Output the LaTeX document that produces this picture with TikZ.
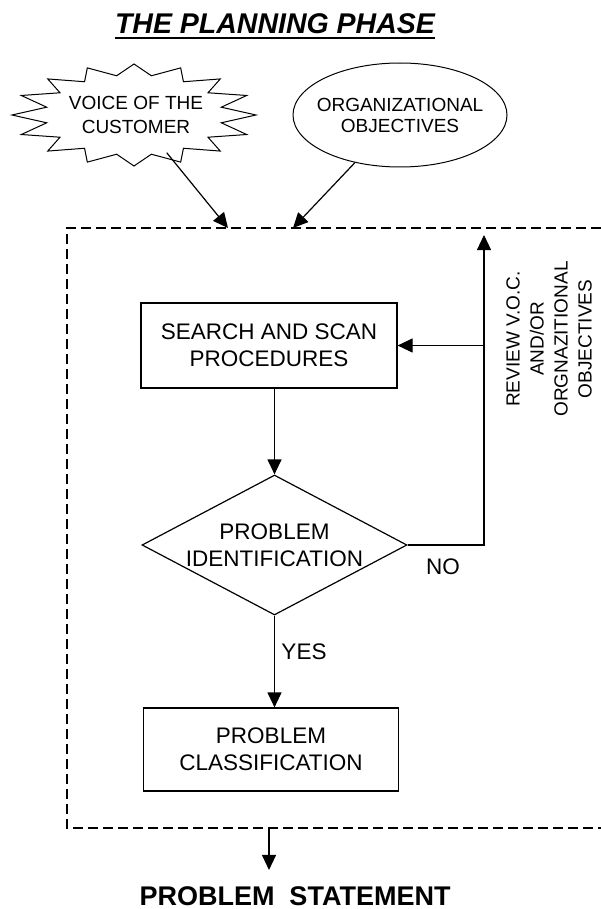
\documentclass[tikz,border=0pt]{standalone}
\usepackage{fontspec}
\setmainfont{Liberation Sans}
\usetikzlibrary{arrows.meta,shapes.geometric}

\begin{document}
\begin{tikzpicture}[x=1pt,y=-1pt,
        line/.style={line width=1.2pt},
        arrow/.style={line width=1.2pt,-{Triangle[length=15pt,width=14pt]}},
        frame/.style={line width=1.8pt,dash pattern=on 10pt off 5pt},
        stepbox/.style={draw,line width=1.2pt,minimum width=256pt,minimum height=85pt,
            align=center,font=\fontsize{22.5}{27}\selectfont},
        small/.style={font=\fontsize{19}{24}\selectfont,align=center},
        mid/.style={font=\fontsize{22.5}{27}\selectfont,align=center}]
    \useasboundingbox (0,0) rectangle (601,909);
        %% title
        \node[inner sep=0,anchor=base,font=\fontsize{28.5}{34}\selectfont\bfseries\itshape] (title) at (275,34) {THE PLANNING PHASE};
        \draw[line width=2.2pt] ([yshift=-4pt]title.base west) -- ([yshift=-4pt]title.base east);
        %% voice of the customer (starburst)
        \draw[line width=1pt] (256,115) \foreach \i in {0,...,15} {
            -- ({134+89*cos(\i*22.5+11.25)},{115+40*sin(\i*22.5+11.25)})
            -- ({134+122*cos(\i*22.5+22.5)},{115+51*sin(\i*22.5+22.5)}) } -- cycle;
        \node[ellipse,minimum width=178pt,minimum height=80pt,inner sep=0,
            label={[small]center:VOICE OF THE\\CUSTOMER}] (voc) at (136,115) {};
        %% organizational objectives
        \node[ellipse,draw,line width=1pt,minimum width=214pt,minimum height=104pt,inner sep=0,
            label={[font=\fontsize{19}{21}\selectfont,align=center]center:ORGANIZATIONAL\\OBJECTIVES}] (org) at (400,115) {};
        %% dashed frame
        \draw[frame] (601,228) -- (67,228) -- (67,828) -- (601,828);
        \coordinate (top1) at (228,228);
        \coordinate (top2) at (293,228);
        \coordinate (ret) at (484,235);
        \coordinate (out) at (269,828);
        \draw[arrow] (voc) -- (top1);
        \draw[arrow] (org) -- (top2);
        %% steps
        \node[stepbox] (scan) at (269,345.5) {SEARCH AND SCAN\\PROCEDURES};
        \node[diamond,draw,line width=1.2pt,minimum width=265pt,minimum height=140pt,inner sep=0,
            label={[mid]center:PROBLEM\\IDENTIFICATION}] (ident) at (274.5,545) {};
        \node[stepbox,minimum width=255pt,minimum height=83pt] (classif) at (271,749.5) {PROBLEM\\CLASSIFICATION};
        \draw[arrow] (scan.south -| ident.north) -- (ident.north);
        \draw[arrow] (ident.south) -- (ident.south |- classif.north);
        %% no branch
        \draw[arrow] (ident.east) -- (ident.east -| ret) -- (ret);
        \draw[arrow] (scan.east -| ret) -- (scan.east);
        \node[mid,anchor=center] (no) at (443,567) {NO};
        \node[mid,anchor=center] (yes) at (304,652) {YES};
        \node[small,rotate=90] (review) at (549,339) {REVIEW V.O.C.\\AND/OR\\ORGNAZITIONAL\\OBJECTIVES};
        %% result
        \node[inner sep=0,anchor=base,font=\fontsize{27}{32}\selectfont\bfseries] (stmt) at (295,905) {PROBLEM~~STATEMENT};
        \draw[arrow,shorten >=16pt] (out) -- (out |- stmt.north);
\end{tikzpicture}
\end{document}
